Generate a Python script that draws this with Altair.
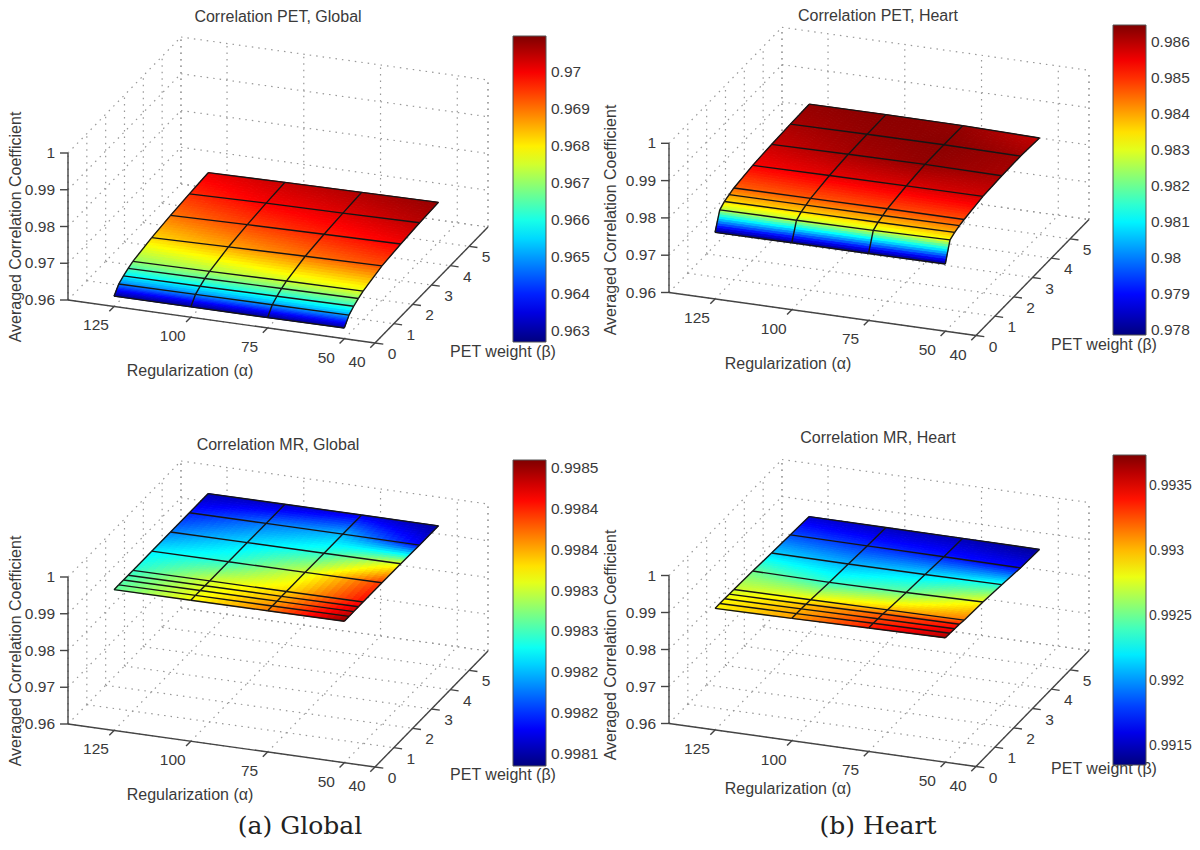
import altair as alt

ALPHA_NODES = [125, 100, 75, 50]
BETA_NODES = [0, 0.25, 0.5, 0.75, 1, 2, 3, 4, 5]
ALPHA_TICKS = [125, 100, 75, 50, 40]
BETA_TICKS = [0, 1, 2, 3, 4, 5]
Z_TICKS = [0.96, 0.97, 0.98, 0.99, 1.0]
Z_LABELS = ["0.96", "0.97", "0.98", "0.99", "1"]
TITLE_A = "Correlation PET, Global"
TITLE_B = "Correlation PET, Heart"
TITLE_C = "Correlation MR, Global"
TITLE_D = "Correlation MR, Heart"
Y_TITLE = "Averaged Correlation Coefficient"
X_TITLE = "Regularization (α)"
B_TITLE = "PET weight (β)"

# rows: one list per alpha node, one value per beta node
PET_GLOBAL = [
    [.9628, .9648, .9657, .9664, .9670, .9682, .9690, .9696, .9701],
    [.9628, .9649, .9658, .9666, .9672, .9686, .9694, .9700, .9704],
    [.9628, .9650, .9660, .9668, .9675, .9690, .9697, .9702, .9706],
    [.9629, .9651, .9662, .9670, .9677, .9693, .9700, .9705, .9708],
]
PET_HEART = [
    [.97786, .98260, .98355, .98407, .98458, .98545, .98588, .98614, .98631],
    [.97795, .98269, .98364, .98415, .98467, .98562, .98614, .98631, .98639],
    [.97795, .98286, .98372, .98424, .98476, .98570, .98631, .98639, .98631],
    [.97803, .98320, .98389, .98441, .98476, .98579, .98614, .98622, .98588],
]
MR_GLOBAL = [
    [.998311, .998308, .998304, .998300, .998293, .998270, .998229, .998191, .998154],
    [.998368, .998364, .998360, .998356, .998353, .998293, .998263, .998225, .998161],
    [.998416, .998413, .998401, .998394, .998383, .998353, .998293, .998248, .998173],
    [.998503, .998491, .998480, .998473, .998461, .998443, .998360, .998180, .998146],
]
MR_HEART = [
    [.992856, .992880, .992832, .992784, .992736, .992497, .992139, .991828, .991541],
    [.993071, .993047, .993023, .992975, .992856, .992354, .992067, .991756, .991493],
    [.993382, .993334, .993262, .993214, .993023, .992497, .992163, .991709, .991470],
    [.993621, .993549, .993453, .993382, .993166, .992832, .992306, .991637, .991398],
]
CBAR_A = [.963, .964, .965, .966, .967, .968, .969, .970]
CBAR_B = [.978, .979, .980, .981, .982, .983, .984, .985, .986]
CBAR_C = [.99815, .9982, .99825, .9983, .99835, .9984, .99845, .9985]
CBAR_D = [.9915, .992, .9925, .993, .9935]

JET = ["#00007f", "#0000ff", "#007fff", "#00ffff", "#7fff7f",
       "#ffff00", "#ff7f00", "#ff0000", "#7f0000"]
TEXT = "#3a3a3a"
SANS = "Liberation Sans"

# view geometry (layout only)
AX = (-3.07, -0.43)
BX = (18.83, -19.33)
PANELS = [
    dict(z=PET_GLOBAL, ticks=CBAR_A, dom=(.9627, .97098), O=(375, 343), c=-3675, title=TITLE_A,
         tp=(278, 17), xp=(190, 371), bp=(503, 352), yp=(16, 227), bar=(513, 36, 306), fmt=".4~f", ls=15.5, lo=5),
    dict(z=PET_HEART, ticks=CBAR_B, dom=(.97786, .98648), O=(976, 335.5), c=-3730, title=TITLE_B,
         tp=(878, 16), xp=(788, 364), bp=(1104, 345), yp=(611, 220), bar=(1113, 25, 310), fmt=".4~f", ls=15.5, lo=5),
    dict(z=MR_GLOBAL, ticks=CBAR_C, dom=(.998135, .99851), O=(375, 767), c=-3675, title=TITLE_C,
         tp=(278, 445), xp=(190, 795), bp=(503, 775), yp=(16, 651), bar=(513, 460, 306), fmt=None, ls=15.5, lo=5),
    dict(z=MR_HEART, ticks=CBAR_D, dom=(.99135, .99374), O=(976, 766.5), c=-3700, title=TITLE_D,
         tp=(878, 438), xp=(788, 789), bp=(1104, 769), yp=(611, 645), bar=(1113, 455, 310), fmt=".4~f", ls=14, lo=3),
]
CAPTIONS = [("(a) Global", 300, 826), ("(b) Heart", 878, 826)]
BAR_W = 33
W, H = 1184, 834

sx = alt.Scale(domain=[0, W], nice=False, zero=False)
sy = alt.Scale(domain=[H, 0], nice=False, zero=False)


def project(p, a, b, z):
    ox, oy = p["O"]
    da = a - 40
    dz = z - 0.96
    return (round(ox + da * AX[0] + b * BX[0] - 8, 2),
            round(oy + da * AX[1] + b * BX[1] + dz * p["c"] - 8, 2))


def seg(p, s, e):
    (x, y), (x2, y2) = project(p, *s), project(p, *e)
    return {"x": x, "y": y, "x2": x2, "y2": y2}


def rules(rows, **mark):
    return alt.Chart(alt.Data(values=rows)).mark_rule(**mark).encode(
        x=alt.X("x:Q", scale=sx, axis=None), y=alt.Y("y:Q", scale=sy, axis=None),
        x2="x2:Q", y2="y2:Q")


def texts(rows, **mark):
    mark.setdefault("font", SANS)
    mark.setdefault("color", TEXT)
    return alt.Chart(alt.Data(values=rows)).mark_text(**mark).encode(
        x=alt.X("x:Q", scale=sx, axis=None), y=alt.Y("y:Q", scale=sy, axis=None),
        text="t:N")


def lerp(a, b, t):
    return a + (b - a) * t


def surface(p):
    """Shade the mesh cells: each cell is split into small quads, back to front."""
    zt = p["z"]
    feats = []
    for j in range(len(BETA_NODES) - 2, -1, -1):
        nb = 10 if (BETA_NODES[j + 1] - BETA_NODES[j] >= 1 or j == 0) else 4
        for sj in range(nb - 1, -1, -1):
            for i in range(len(ALPHA_NODES) - 1):
                na = 12
                for si in range(na):
                    corners = [(si, sj), (si + 1, sj), (si + 1, sj + 1), (si, sj + 1)]
                    ring = []
                    for ci, cj in corners:
                        u, w = ci / na, cj / nb
                        z = lerp(lerp(zt[i][j], zt[i + 1][j], u), lerp(zt[i][j + 1], zt[i + 1][j + 1], u), w)
                        a = lerp(ALPHA_NODES[i], ALPHA_NODES[i + 1], u)
                        b = lerp(BETA_NODES[j], BETA_NODES[j + 1], w)
                        ring.append(list(project(p, a, b, z)))
                    ring.append(ring[0])
                    u, w = (si + .5) / na, (sj + .5) / nb
                    v = lerp(lerp(zt[i][j], zt[i + 1][j], u), lerp(zt[i][j + 1], zt[i + 1][j + 1], u), w)
                    feats.append({"type": "Feature", "properties": {"v": round(v, 7)},
                                  "geometry": {"type": "Polygon", "coordinates": [ring]}})
    lo, hi = p["dom"]
    dom = [lo + (hi - lo) * k / 8 for k in range(9)]
    bx, by, blen = p["bar"]
    lg = dict(title=None, orient="none", legendX=bx - 8, legendY=by - 8, gradientLength=blen,
              gradientThickness=BAR_W, values=p["ticks"], labelFont=SANS, labelFontSize=p["ls"],
              labelColor=TEXT, labelOffset=p["lo"], labelOverlap=False, padding=0,
              gradientStrokeColor="#555", gradientStrokeWidth=1, direction="vertical")
    if p["fmt"]:
        lg["format"] = p["fmt"]
    else:
        lg["labelExpr"] = "format(datum.value-0.00001,'.4f')"
    scale = alt.Scale(domain=dom, range=JET, interpolate="rgb", clamp=True)
    under = alt.Chart(alt.Data(values=feats)).mark_geoshape(filled=False, strokeWidth=1).encode(
        stroke=alt.Stroke("properties.v:Q", scale=scale, legend=None),
    ).project(type="identity", scale=1, translate=[0, 0])
    top = alt.Chart(alt.Data(values=feats)).mark_geoshape(strokeWidth=0).encode(
        color=alt.Color("properties.v:Q", scale=scale, legend=alt.Legend(**lg)),
    ).project(type="identity", scale=1, translate=[0, 0])
    return [under, top]


layers = []
for p in PANELS:
    grid = []
    zs = Z_TICKS
    for z in zs:
        grid.append(seg(p, (140, 0, z), (140, 6, z)))
        grid.append(seg(p, (140, 6, z), (40, 6, z)))
    for b in BETA_TICKS + [6]:
        grid.append(seg(p, (140, b, .96), (140, b, 1)))
        grid.append(seg(p, (140, b, .96), (40, b, .96)))
    for a in ALPHA_TICKS:
        grid.append(seg(p, (a, 6, .96), (a, 6, 1)))
        grid.append(seg(p, (a, 0, .96), (a, 6, .96)))
    grid.append(seg(p, (40, 6, .96), (40, 6, 1)))
    grid.append(seg(p, (140, 6, .96), (140, 6, 1)))
    layers.append(rules(grid, color="#989898", strokeWidth=1.2, strokeDash=[1.5, 5]))

    axes = [seg(p, (140, 0, .96), (140, 0, 1)),
            seg(p, (140, 0, .96), (40, 0, .96)),
            seg(p, (40, 0, .96), (40, 6, .96))]
    for a in ALPHA_TICKS:
        axes.append(seg(p, (a, 0, .96), (a, -.25, .96)))
    for b in BETA_TICKS:
        axes.append(seg(p, (40, b, .96), (37.3, b, .96)))
    layers.append(rules(axes, color="#444444", strokeWidth=1.4))
    zt_rows = []
    for z in Z_TICKS:
        x, y = project(p, 140, 0, z)
        zt_rows.append({"x": x, "y": y, "x2": x - 8, "y2": y})
    layers.append(rules(zt_rows, color="#444444", strokeWidth=1.4))

    layers.extend(surface(p))

    mesh = []
    for j, b in enumerate(BETA_NODES):
        for i in range(len(ALPHA_NODES) - 1):
            mesh.append(seg(p, (ALPHA_NODES[i], b, p["z"][i][j]), (ALPHA_NODES[i + 1], b, p["z"][i + 1][j])))
    for i, a in enumerate(ALPHA_NODES):
        for j in range(len(BETA_NODES) - 1):
            mesh.append(seg(p, (a, BETA_NODES[j], p["z"][i][j]), (a, BETA_NODES[j + 1], p["z"][i][j + 1])))
    layers.append(rules(mesh, color="#151515", strokeWidth=1.4))

    # colourbar tick marks
    bx, by, blen = p["bar"]
    lo, hi = p["dom"]
    cb = []
    for v in p["ticks"]:
        y = by + (hi - v) / (hi - lo) * blen - 8
        cb.append({"x": bx - 8, "x2": bx - 5, "y": y, "y2": y})
        cb.append({"x": bx + BAR_W - 11, "x2": bx + BAR_W - 8, "y": y, "y2": y})
    layers.append(rules(cb, color="#222222", strokeWidth=1))

    lab = []
    for a in ALPHA_TICKS:
        x, y = project(p, a, 0, .96)
        lab.append({"x": x, "y": y, "t": str(a)})
    layers.append(texts(lab, fontSize=15.5, align="center", baseline="middle", dx=-18, dy=19))
    lab = []
    for b in BETA_TICKS:
        x, y = project(p, 40, b, .96)
        lab.append({"x": x, "y": y, "t": str(b)})
    layers.append(texts(lab, fontSize=15.5, align="center", baseline="middle", dx=17, dy=11))
    lab = []
    for z, s in zip(Z_TICKS, Z_LABELS):
        x, y = project(p, 140, 0, z)
        lab.append({"x": x, "y": y, "t": s})
    layers.append(texts(lab, fontSize=15.5, align="right", baseline="middle", dx=-13))

    layers.append(texts([{"x": p["tp"][0] - 8, "y": p["tp"][1] - 8, "t": p["title"]}],
                        fontSize=16, align="center", baseline="middle"))
    layers.append(texts([{"x": p["xp"][0] - 8, "y": p["xp"][1] - 8, "t": X_TITLE},
                         {"x": p["bp"][0] - 8, "y": p["bp"][1] - 8, "t": B_TITLE}],
                        fontSize=16, align="center", baseline="middle"))
    layers.append(texts([{"x": p["yp"][0] - 8, "y": p["yp"][1] - 8, "t": Y_TITLE}],
                        fontSize=16, align="center", baseline="middle", angle=270))

layers.append(texts([{"x": x - 8, "y": y - 8, "t": t} for t, x, y in CAPTIONS],
                    font="DejaVu Serif", fontSize=25, color="#222222",
                    align="center", baseline="middle"))

chart = alt.layer(*layers).resolve_scale(color="independent", stroke="independent").properties(
    width=W, height=H, padding=0, autosize=alt.AutoSizeParams(type="none"),
    background="white"
).configure_view(stroke=None)

chart.save("out.html", embed_options={"renderer": "svg", "actions": False})
